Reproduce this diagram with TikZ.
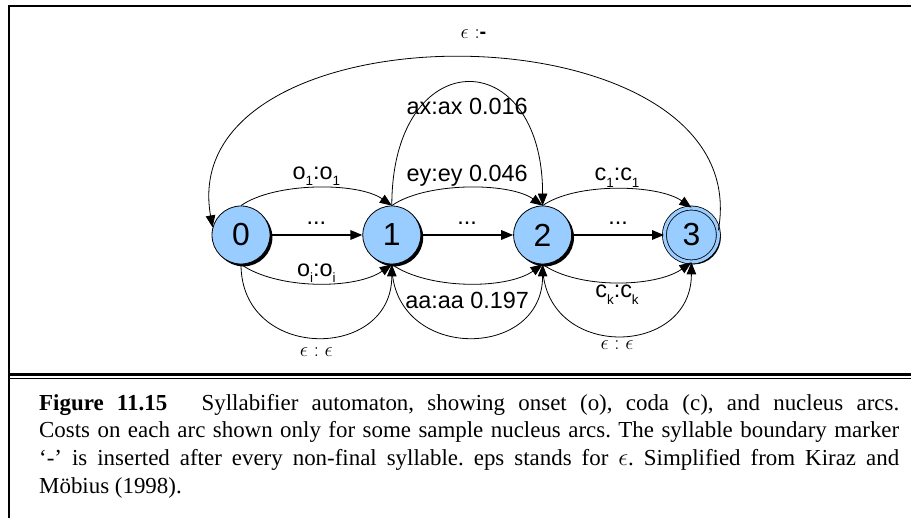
\documentclass[tikz,border=0pt]{standalone}
\usepackage{fontspec}
\setmainfont{Liberation Serif}
\setsansfont{Liberation Sans}
\usetikzlibrary{arrows.meta, positioning, shadows}
\definecolor{stateblue}{HTML}{99CCFF}
\newcommand\sub[1]{\raisebox{-0.55ex}{\fontsize{13.5}{13.5}\selectfont #1}}

\begin{document}
\begin{tikzpicture}[x=1bp, y=1bp,
      node distance=92bp,
      state/.style={circle, draw, line width=0.8bp, fill=stateblue, minimum size=58bp, inner sep=0pt,
        font=\sffamily\fontsize{32}{32}\selectfont,
        drop shadow={shadow xshift=2.4bp, shadow yshift=-2.4bp, fill=black, opacity=1}},
      final/.style={state, minimum size=54bp, double=stateblue, double distance=3.2bp},
      lbl/.style={font=\sffamily\fontsize{23.5}{25}\selectfont, inner sep=1.5bp},
      eps/.style={font=\fontsize{20}{22}\selectfont, inner sep=1bp},
      ar/.style={-{Triangle[length=12bp, width=9.5bp]}, line width=0.8bp},
      thickar/.style={ar, line width=1.6bp},
      rule/.style={line width=2bp}
    ]
    \useasboundingbox (0,0) rectangle (911,518);
    % frame
    \draw[rule] (8,512) -- (911,512);
    \draw[rule] (9,513) -- (9,0);
    \draw[line width=3bp] (8,143) -- (911,143);
    \draw[line width=1bp] (8,139.2) -- (911,139.2);
    % states
    \node[state] (n0) at (241,283) {0};
    \node[state, right=of n0] (n1) {1};
    \node[state, right=of n1] (n2) {2};
    \node[final, right=of n2] (n3) {3};
    % direct arcs
    \draw[thickar] (n0) -- node[lbl, above=8bp] {...} (n1);
    \draw[thickar] (n1) -- node[lbl, above=8bp] {...} (n2);
    \draw[thickar] (n2) -- node[lbl, above=8bp] {...} (n3);
    % upper arcs
    \draw[ar] (n0.north) to[out=35, in=145, looseness=0.7] node[lbl, above] {o\sub{1}:o\sub{1}} (n1.north);
    \draw[ar] (n1.north) to[out=35, in=145, looseness=0.7] node[lbl, above] {ey:ey 0.046} (n2.north);
    \draw[ar] (n2.north) to[out=35, in=145, looseness=0.7] node[lbl, above] {c\sub{1}:c\sub{1}} (n3.north);
    \draw[ar] (n1.north) to[out=90, in=90, looseness=2.78] node[lbl, below=13bp] {ax:ax 0.016} (n2.north);
    % lower arcs
    \draw[ar] (n0.south) to[out=-35, in=-145, looseness=0.75] node[lbl, above, inner sep=0pt] {o\sub{i}:o\sub{i}} (n1.south);
    \draw[ar] (n1.south) to[out=-35, in=-145, looseness=0.75] (n2.south);
    \draw[ar] (n2.south) to[out=-35, in=-145, looseness=0.75] node[lbl, below=1bp] {c\sub{k}:c\sub{k}} (n3.south);
    % epsilon loops
    \draw[ar] (n0.south) to[out=-90, in=-90, looseness=1.65] node[eps, below=9bp] {$\epsilon:\epsilon$} (n1.south);
    \draw[ar] (n1.south) to[out=-90, in=-90, looseness=1.65] node[lbl, above=27bp] {aa:aa 0.197} (n2.south);
    \draw[ar] (n2.south) to[out=-90, in=-90, looseness=1.65] node[eps, below=4bp] {$\epsilon:\epsilon$} (n3.south);
    % boundary marker arc
    \draw[ar] (n3.10) to[out=80, in=100, looseness=1.17] node[eps, above=18bp, xshift=8bp] {$\epsilon:${\sffamily\bfseries -}} (n0.165);
    % caption
    \node[anchor=north west, inner sep=0pt, text width=860bp, align=justify,
      font=\fontsize{23}{27.7}\selectfont\frenchspacing] (cap) at (39,124)
      {{\bfseries Figure 11.15}\hspace{1.5em}Syllabifier automaton, showing onset (o), coda (c), and nucleus arcs.\linebreak
       Costs on each arc shown only for some sample nucleus arcs. The syllable boundary marker\linebreak
       `-' is inserted after every non-final syllable. eps stands for $\epsilon$. Simplified from Kiraz and\linebreak
       Möbius (1998).};
  \end{tikzpicture}
\end{document}
